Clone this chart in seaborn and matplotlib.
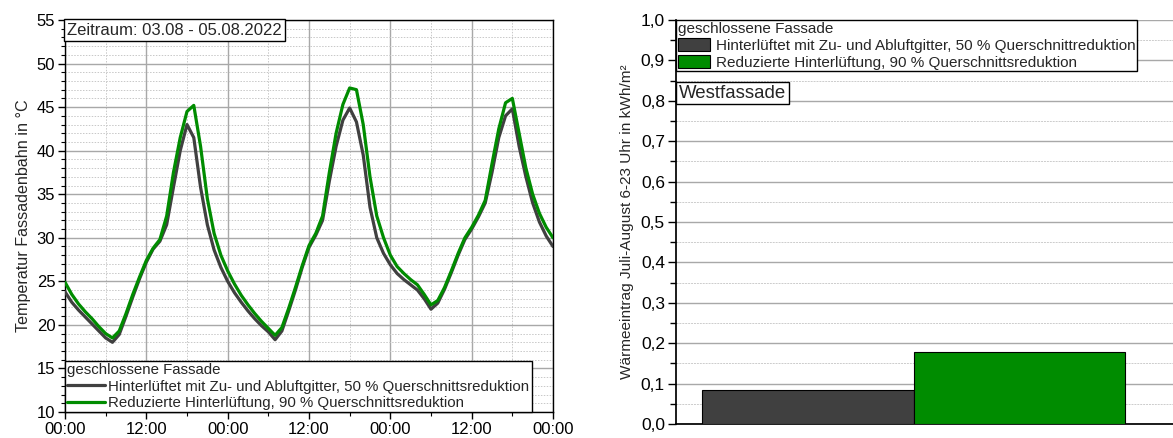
import numpy as np
import pandas as pd
import matplotlib
matplotlib.use("Agg")
import matplotlib.pyplot as plt
from matplotlib.ticker import MultipleLocator
from matplotlib.lines import Line2D
from matplotlib.patches import Patch
import seaborn as sns

# ---------------- data ----------------
hours = list(range(0, 73))
hinterlueftet = [
    23.8, 22.6, 21.7, 20.9, 20.1, 19.3, 18.5, 18.0, 18.9, 21.0, 23.2, 25.3,
    27.2, 28.7, 29.6, 31.5, 35.8, 40.0, 43.0, 41.5, 35.8, 31.5, 28.6, 26.6,
    25.0, 23.7, 22.6, 21.6, 20.7, 19.9, 19.2, 18.3, 19.3, 21.6, 24.0, 26.6,
    28.9, 30.3, 32.0, 36.5, 40.5, 43.5, 44.9, 43.3, 39.5, 33.5, 30.0, 28.2,
    26.9, 25.9, 25.2, 24.6, 24.0, 23.0, 21.8, 22.5, 24.1, 26.0, 28.0, 29.8,
    31.0, 32.4, 34.0, 37.5, 41.5, 44.0, 44.8, 40.5, 37.0, 34.0, 31.8, 30.2,
    29.0,
]
reduziert = [
    24.9, 23.5, 22.4, 21.5, 20.7, 19.8, 19.0, 18.5, 19.3, 21.3, 23.5, 25.5,
    27.4, 28.8, 29.8, 32.5, 37.5, 41.5, 44.5, 45.2, 40.5, 34.5, 30.5, 28.0,
    26.2, 24.7, 23.4, 22.3, 21.3, 20.4, 19.6, 18.8, 19.7, 21.9, 24.3, 26.8,
    29.1, 30.5, 32.5, 37.5, 42.0, 45.3, 47.2, 47.0, 43.0, 37.0, 32.5, 30.0,
    28.0, 26.7, 25.9, 25.2, 24.6, 23.5, 22.3, 22.8, 24.3, 26.2, 28.2, 30.0,
    31.2, 32.6, 34.3, 38.5, 42.5, 45.5, 46.0, 42.0, 38.0, 35.0, 32.8, 31.2,
    30.0,
]
series_names = [
    "Hinterlüftet mit Zu- und Abluftgitter, 50 % Querschnittsreduktion",
    "Reduzierte Hinterlüftung, 90 % Querschnittsreduktion",
]
x_tick_pos = [0, 12, 24, 36, 48, 60, 72]
x_tick_labels = ["00:00", "12:00", "00:00", "12:00", "00:00", "12:00", "00:00"]

bar_categories = ["A", "B"]
bar_names = [
    "Hinterlüftet mit Zu- und Abluftgitter, 50 % Querschnittreduktion",
    "Reduzierte Hinterlüftung, 90 % Querschnittsreduktion",
]
bar_values = [0.084, 0.179]
bar_ticks = [0.0, 0.1, 0.2, 0.3, 0.4, 0.5, 0.6, 0.7, 0.8, 0.9, 1.0]
bar_tick_labels = ["0,0", "0,1", "0,2", "0,3", "0,4", "0,5", "0,6", "0,7", "0,8", "0,9", "1,0"]

dark = "#404040"
green = "#008c00"

# ---------------- style ----------------
sns.set_theme(style="white")
plt.rcParams["font.family"] = ["Liberation Sans", "DejaVu Sans"]

fig = plt.figure(figsize=(11.73, 4.38), dpi=100)
ax1 = fig.add_axes([65 / 1173, 1 - 412 / 438, 488 / 1173, 392 / 438])
ax2 = fig.add_axes([676 / 1173, 1 - 424 / 438, 497 / 1173, 404 / 438])

# ---------------- left: line chart ----------------
df = pd.DataFrame({
    "h": hours * 2,
    "T": hinterlueftet + reduziert,
    "s": [series_names[0]] * len(hours) + [series_names[1]] * len(hours),
})
sns.lineplot(data=df, x="h", y="T", hue="s", palette=[dark, green], linewidth=2.3,
             ax=ax1, legend=False, zorder=3)
ax1.set_xlim(0, 72)
ax1.set_ylim(10, 55)
ax1.set_xticks(x_tick_pos)
ax1.set_xticklabels(x_tick_labels)
ax1.xaxis.set_minor_locator(MultipleLocator(6))
ax1.yaxis.set_major_locator(MultipleLocator(5))
ax1.yaxis.set_minor_locator(MultipleLocator(1))
ax1.grid(True, which="major", color="#a8a8a8", linewidth=1.0, linestyle="-")
ax1.grid(True, which="minor", color="#c8c8c8", linewidth=0.7, linestyle=(0, (1.5, 1.5)))
ax1.set_axisbelow(True)
for sp in ax1.spines.values():
    sp.set_color("black")
    sp.set_linewidth(1.0)
ax1.tick_params(axis="both", which="major", direction="out", length=5, width=1,
                colors="black", labelsize=12, left=True, bottom=True, pad=2)
ax1.tick_params(axis="both", which="minor", direction="out", length=3, width=0.8,
                colors="black", left=True, bottom=True)
ax1.set_xlabel("")
ax1.set_ylabel("Temperatur Fassadenbahn in °C", fontsize=11.6, labelpad=4)

h1 = [Line2D([0], [0], color=dark, lw=2.3), Line2D([0], [0], color=green, lw=2.3)]
leg1 = ax1.legend(h1, series_names, title="geschlossene Fassade", loc="lower left",
                  bbox_to_anchor=(0, 0), fontsize=10.8, title_fontsize=10.8,
                  frameon=True, fancybox=False, framealpha=1, edgecolor="black",
                  borderaxespad=0, handlelength=2.5, handletextpad=0.25,
                  labelspacing=0.15, borderpad=0.15, alignment="left")
leg1.get_frame().set_linewidth(1.0)
leg1.set_zorder(5)

ax1.text(0.004, 0.993, "Zeitraum: 03.08 - 05.08.2022", transform=ax1.transAxes,
         ha="left", va="top", fontsize=12, zorder=6,
         bbox=dict(boxstyle="square,pad=0.2", facecolor="white", edgecolor="black", linewidth=1))

# ---------------- right: bar chart ----------------
bdf = pd.DataFrame({"cat": bar_categories, "val": bar_values})
sns.barplot(data=bdf, x="cat", y="val", hue="cat", palette=[dark, green], width=1.0,
            edgecolor="black", linewidth=0.8, ax=ax2, legend=False, zorder=3, saturation=1)
ax2.set_xlim(-0.623, 1.727)
ax2.set_ylim(0, 1.0)
ax2.set_yticks(bar_ticks)
ax2.set_yticklabels(bar_tick_labels)
ax2.yaxis.set_minor_locator(MultipleLocator(0.05))
ax2.set_xticks([])
ax2.grid(True, axis="y", which="major", color="#a8a8a8", linewidth=1.0)
ax2.grid(True, axis="y", which="minor", color="#cccccc", linewidth=0.7, linestyle=(0, (2, 1)))
ax2.set_axisbelow(True)
ax2.spines["top"].set_visible(False)
ax2.spines["right"].set_visible(False)
ax2.spines["left"].set_color("black")
ax2.spines["bottom"].set_color("black")
ax2.tick_params(axis="y", which="major", direction="out", length=6, width=1,
                colors="black", labelsize=12.5, left=True, pad=2)
ax2.tick_params(axis="y", which="minor", direction="out", length=4, width=1,
                colors="black", left=True)
ax2.set_xlabel("")
ax2.set_ylabel("Wärmeeintrag Juli-August 6-23 Uhr in kWh/m²", fontsize=11.1, labelpad=5)

h2 = [Patch(facecolor=dark, edgecolor="black", lw=0.8),
      Patch(facecolor=green, edgecolor="black", lw=0.8)]
leg2 = ax2.legend(h2, bar_names, title="geschlossene Fassade", loc="upper left",
                  bbox_to_anchor=(0, 1), fontsize=11, title_fontsize=11,
                  frameon=True, fancybox=False, framealpha=1, edgecolor="black",
                  borderaxespad=0, handlelength=2.1, handleheight=1.0, handletextpad=0.4,
                  labelspacing=0.12, borderpad=0.12, alignment="left")
leg2.get_frame().set_linewidth(1.0)
leg2.set_zorder(5)

ax2.text(0.005, 0.84, "Westfassade", transform=ax2.transAxes, ha="left", va="top",
         fontsize=13.4, zorder=6,
         bbox=dict(boxstyle="square,pad=0.15", facecolor="white", edgecolor="black", linewidth=1))

fig.savefig("out.png", dpi=100)
